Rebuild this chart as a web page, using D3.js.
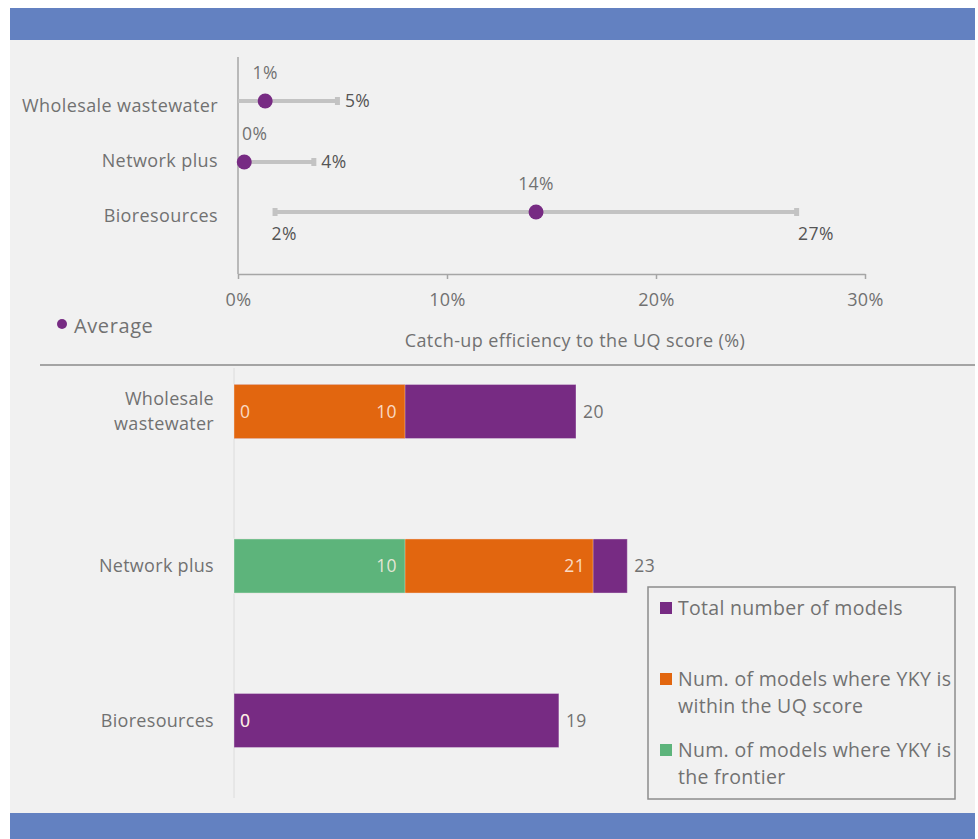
<!DOCTYPE html>
<html>
<head>
<meta charset="utf-8">
<script src="https://cdn.jsdelivr.net/npm/d3@7"></script>
<style>
  html, body { margin: 0; padding: 0; background: #ffffff; }
  svg { display: block; font-family: "Open Sans", "Noto Sans", sans-serif; }
</style>
</head>
<body>
<svg id="chart" width="978" height="839"></svg>
<script>
// ---- Catch-up efficiency ranges (percent) ----
const rangeCategories = ["Wholesale wastewater", "Network plus", "Bioresources"];
const rangeMin = [0, 0, 1.7];
const rangeAvg = [1.3, 0.3, 14.26];
const rangeMax = [4.83, 3.7, 26.8];
const rangeTicks = [0, 10, 20, 30];
// where each row puts its min / max labels
const minLabelPos = ["none", "none", "below"];
const maxLabelPos = ["right", "right", "below"];

// ---- Model counts ----
const modelCategories = [["Wholesale", "wastewater"], ["Network plus"], ["Bioresources"]];
const totalModels = [20, 23, 19];
const withinUQ = [10, 21, 0];
const frontier = [0, 10, 0];
const legendItems = [
  { key: "total", lines: ["Total number of models"] },
  { key: "within", lines: ["Num. of models where YKY is", "within the UQ score"] },
  { key: "frontier", lines: ["Num. of models where YKY is", "the frontier"] }
];

const colors = { total: "#772b83", within: "#e2660f", frontier: "#5db47b" };
const textCol = "#717171";
const pct = d3.format(".0f");
const LS = "0.4px";

const svg = d3.select("#chart");

// page frame: blue bands and grey panel
svg.append("rect").attr("x", 10).attr("y", 8).attr("width", 965).attr("height", 32).attr("fill", "#6381c1");
svg.append("rect").attr("x", 10).attr("y", 40).attr("width", 965).attr("height", 773).attr("fill", "#f1f1f1");
svg.append("rect").attr("x", 10).attr("y", 813).attr("width", 965).attr("height", 26).attr("fill", "#6381c1");

// ================= Top: range chart =================
const xTop = d3.scaleLinear().domain([0, 30]).range([238, 865]);
const yTop = d3.scalePoint().domain(rangeCategories).range([106, 216]);
// vertical nudge of each range line relative to its category label
const lineShift = [-5, 1, -4];

// x axis
const gxTop = svg.append("g").attr("transform", "translate(0,274)")
  .call(d3.axisBottom(xTop).tickValues(rangeTicks).tickFormat(d => d + "%").tickSize(5).tickSizeOuter(0).tickPadding(14));
gxTop.select(".domain").attr("stroke", "#a6a6a6").attr("stroke-width", 1.5);
gxTop.selectAll(".tick line").attr("stroke", "#a6a6a6").attr("stroke-width", 1.5);
gxTop.selectAll(".tick text").attr("fill", textCol).attr("font-size", 18).attr("letter-spacing", LS)
  .attr("font-family", "Open Sans, sans-serif");

// y axis line
svg.append("line").attr("x1", xTop(0)).attr("x2", xTop(0)).attr("y1", 57).attr("y2", 274)
  .attr("stroke", "#a6a6a6").attr("stroke-width", 1.5);

// category labels
svg.append("g").selectAll("text").data(rangeCategories).join("text")
  .attr("x", 218).attr("y", d => yTop(d)).attr("dy", "0.35em")
  .attr("text-anchor", "end").attr("fill", textCol).attr("font-size", 18).attr("letter-spacing", LS).text(d => d);

const rows = rangeCategories.map((c, i) => ({ c, i, min: rangeMin[i], avg: rangeAvg[i], max: rangeMax[i], minPos: minLabelPos[i], maxPos: maxLabelPos[i] }));
const gRows = svg.append("g").selectAll("g").data(rows).join("g")
  .attr("transform", d => `translate(0,${yTop(d.c) + lineShift[d.i]})`);

gRows.append("line").attr("x1", d => xTop(d.min)).attr("x2", d => xTop(d.max))
  .attr("stroke", "#c3c3c3").attr("stroke-width", 4);
gRows.append("rect").attr("x", d => xTop(d.min) - 1).attr("y", -4).attr("width", 5).attr("height", 8).attr("fill", "#c3c3c3")
  .attr("display", d => d.min > 0 ? null : "none");
gRows.append("rect").attr("x", d => xTop(d.max) - 4).attr("y", -4).attr("width", 5).attr("height", 8).attr("fill", "#c3c3c3");
gRows.append("circle").attr("cx", d => xTop(d.avg)).attr("r", 7.5).attr("fill", colors.total);

// average labels above the dot, kept clear of the axis line
gRows.append("text").attr("y", -22).attr("text-anchor", "middle")
  .attr("fill", textCol).attr("font-size", 17.5).attr("letter-spacing", LS).text(d => pct(d.avg) + "%")
  .each(function(d) {
    const w = this.getComputedTextLength();
    d3.select(this).attr("x", Math.max(xTop(d.avg), xTop(0) + 4 + w / 2));
  });
// max labels
gRows.append("text")
  .attr("x", d => d.maxPos === "right" ? xTop(d.max) + 6 : xTop(d.max))
  .attr("y", d => d.maxPos === "right" ? 0 : 22)
  .attr("dy", "0.35em").attr("text-anchor", "start")
  .attr("fill", "#555").attr("font-size", 17.5).attr("letter-spacing", LS).text(d => pct(d.max) + "%");
// min labels
gRows.filter(d => d.minPos !== "none").append("text")
  .attr("x", d => xTop(d.min) - 2).attr("y", 22).attr("dy", "0.35em").attr("text-anchor", "start")
  .attr("fill", "#555").attr("font-size", 17.5).attr("letter-spacing", LS).text(d => pct(d.min) + "%");

// axis title
svg.append("text").attr("x", 575).attr("y", 347).attr("text-anchor", "middle")
  .attr("fill", textCol).attr("font-size", 18).attr("letter-spacing", LS).text("Catch-up efficiency to the UQ score (%)");

// legend: Average
svg.append("circle").attr("cx", 62).attr("cy", 324).attr("r", 5).attr("fill", colors.total);
svg.append("text").attr("x", 74).attr("y", 326).attr("dy", "0.35em").attr("fill", textCol)
  .attr("font-size", 20).attr("letter-spacing", "0.6px").text("Average");

// separator
svg.append("line").attr("x1", 40).attr("x2", 975).attr("y1", 365).attr("y2", 365)
  .attr("stroke", "#8a8a8a").attr("stroke-width", 1.5);

// ================= Bottom: model counts =================
const xBot = d3.scaleLinear().domain([0, 20]).range([234, 576]);
const catKeys = modelCategories.map(d => d.join(" "));
const yBot = d3.scaleBand().domain(catKeys).range([334.25, 797.75]).paddingInner(0.65).paddingOuter(0.325);

svg.append("line").attr("x1", xBot(0)).attr("x2", xBot(0)).attr("y1", 368).attr("y2", 798)
  .attr("stroke", "#dcdcdc").attr("stroke-width", 1);

// category labels
const gCat = svg.append("g").selectAll("text").data(modelCategories).join("text")
  .attr("text-anchor", "end").attr("fill", textCol).attr("font-size", 18).attr("letter-spacing", "0.3px")
  .attr("y", d => yBot(d.join(" ")) + yBot.bandwidth() / 2);
gCat.selectAll("tspan").data(d => d.map((t, i) => ({ t, i, n: d.length }))).join("tspan")
  .attr("x", 214)
  .attr("dy", d => d.i === 0 ? ((-(d.n - 1) / 2) * 1.38 + 0.35) + "em" : "1.38em")
  .text(d => d.t);

const barData = catKeys.map((c, i) => ({ c, total: totalModels[i], within: withinUQ[i], frontier: frontier[i] }));
const layers = ["total", "within", "frontier"];
layers.forEach(key => {
  svg.append("g").selectAll("rect").data(barData).join("rect")
    .attr("x", xBot(0)).attr("y", d => yBot(d.c))
    .attr("width", d => xBot(d[key]) - xBot(0)).attr("height", yBot.bandwidth())
    .attr("fill", colors[key])
    .attr("stroke", d => d[key] > 0 ? "rgba(255,255,255,0.35)" : "none").attr("stroke-width", 1);
});

// total labels outside the bar end
svg.append("g").selectAll("text").data(barData).join("text")
  .attr("x", d => xBot(d.total) + 7).attr("y", d => yBot(d.c) + yBot.bandwidth() / 2).attr("dy", "0.35em")
  .attr("fill", textCol).attr("font-size", 17.5).attr("letter-spacing", LS).text(d => d.total);

// inner labels for within / frontier (zero values sit at the bar start)
["within", "frontier"].forEach(key => {
  svg.append("g").selectAll("text").data(barData).join("text")
    .attr("x", d => d[key] > 0 ? xBot(d[key]) - 8 : xBot(0) + 6)
    .attr("text-anchor", d => d[key] > 0 ? "end" : "start")
    .attr("y", d => yBot(d.c) + yBot.bandwidth() / 2).attr("dy", "0.35em")
    .attr("fill", "rgba(255,240,230,0.85)").attr("font-size", 17.5).attr("letter-spacing", LS).text(d => d[key]);
});

// legend box
const lg = svg.append("g");
lg.append("rect").attr("x", 648).attr("y", 587).attr("width", 307).attr("height", 212)
  .attr("fill", "none").attr("stroke", "#8c8c8c").attr("stroke-width", 1.5);
const legendY = d3.scalePoint().domain(legendItems.map(d => d.key)).range([608, 750]);
const li = lg.selectAll("g").data(legendItems).join("g")
  .attr("transform", d => `translate(660,${legendY(d.key)})`);
li.append("rect").attr("x", 0).attr("y", -6).attr("width", 12).attr("height", 12).attr("fill", d => colors[d.key]);
li.append("text").attr("fill", textCol).attr("font-size", 19.5).attr("letter-spacing", "0.3px")
  .selectAll("tspan").data(d => d.lines.map((t, i) => ({ t, i }))).join("tspan")
  .attr("x", 18).attr("dy", d => d.i === 0 ? "0.35em" : "1.4em").text(d => d.t);
</script>
</body>
</html>
